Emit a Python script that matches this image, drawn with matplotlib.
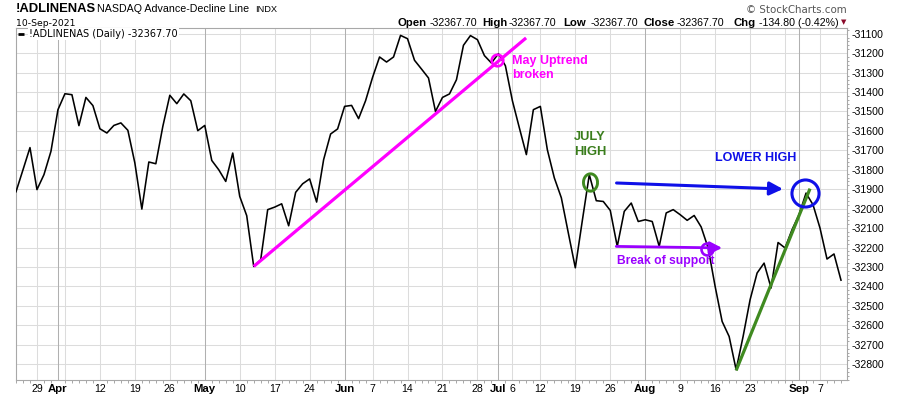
import matplotlib
matplotlib.use("Agg")
import matplotlib.pyplot as plt
import numpy as np
import pandas as pd
from matplotlib.path import Path
from matplotlib.markers import MarkerStyle
from matplotlib.ticker import MultipleLocator

# ---------------- data ----------------
start_date = "2021-03-24"
end_date = "2021-09-10"
market_holidays = ["2021-04-02", "2021-05-31", "2021-07-05", "2021-09-06"]

ad_line = [
    -31913, -31800, -31686,
    -31902, -31825, -31705, -31491,
    -31409, -31414, -31573, -31428, -31470,
    -31589, -31611, -31572, -31559, -31597,
    -31765, -32002, -31760, -31769, -31577,
    -31417, -31460, -31410, -31445, -31599,
    -31572, -31752, -31800, -31860, -31714,
    -31937, -32036, -32297, -32263, -32005,
    -31992, -31975, -32088, -31916, -31872,
    -31847, -31966, -31748, -31616, -31590,
    -31474, -31469, -31537, -31445,
    -31325, -31220, -31246, -31220, -31109,
    -31126, -31237, -31282, -31328, -31500,
    -31428, -31410, -31337, -31160, -31110,
    -31131, -31213, -31251, -31203, -31265,
    -31445, -31585, -31722, -31491,
    -31474, -31697, -31842, -31944, -32125,
    -32304, -32062, -31825, -31959, -31963,
    -32009, -32194, -32014, -31971, -32066,
    -32057, -32066, -32194, -32022, -32005,
    -32031, -32060, -32035, -32094, -32202,
    -32400, -32580, -32657, -32828, -32657,
    -32468, -32331, -32280, -32408, -32174,
    -32202, -32108, -32031, -31920, -31980,
    -32100, -32259, -32232.9, -32367.7,
]

y_ticks = list(range(-31100, -32801, -100))

week_grid_dates = ["2021-03-29", "2021-04-05", "2021-04-12", "2021-04-19", "2021-04-26",
                   "2021-05-10", "2021-05-17", "2021-05-24", "2021-06-07", "2021-06-14",
                   "2021-06-21", "2021-06-28", "2021-07-06", "2021-07-12", "2021-07-19",
                   "2021-07-26", "2021-08-09", "2021-08-16", "2021-08-23", "2021-08-30",
                   "2021-09-07"]
month_grid_dates = ["2021-04-01", "2021-05-03", "2021-06-01", "2021-07-01", "2021-08-02", "2021-09-01"]

x_label_dates = ["2021-03-29", "2021-04-01", "2021-04-12", "2021-04-19", "2021-04-26",
                 "2021-05-03", "2021-05-10", "2021-05-17", "2021-05-24", "2021-06-01",
                 "2021-06-07", "2021-06-14", "2021-06-21", "2021-06-28", "2021-07-01",
                 "2021-07-06", "2021-07-12", "2021-07-19", "2021-07-26", "2021-08-02",
                 "2021-08-09", "2021-08-16", "2021-08-23", "2021-09-01", "2021-09-07"]
x_label_texts = ["29", "Apr", "12", "19", "26", "May", "10", "17", "24", "Jun", "7", "14",
                 "21", "28", "Jul", "6", "12", "19", "26", "Aug", "9", "16", "23", "Sep", "7"]

# ---------------- setup ----------------
W, H = 900, 396
days = pd.bdate_range(start_date, end_date)
days = days[~days.isin(pd.to_datetime(market_holidays))]
index_of = {d: i for i, d in enumerate(days)}


def P(s):
    return index_of[pd.Timestamp(s)]


xs = np.arange(len(days))

fig = plt.figure(figsize=(W / 100, H / 100), dpi=100)
fig.patch.set_facecolor("white")
ax = fig.add_axes([16 / W, 1 - 380 / H, 831 / W, 352 / H])
ax.set_xlim(0.14, 118.86)
ax.set_ylim(-32881, -31071)

# grid
for v in y_ticks:
    ax.axhline(v, color="#dcdcdc", lw=0.75, zorder=1)
for d in week_grid_dates:
    ax.axvline(P(d), color="#dcdcdc", lw=0.75, zorder=1)
for d in month_grid_dates:
    ax.axvline(P(d), color="#b0b0b0", lw=0.75, zorder=1)

ax.plot(xs, ad_line, color="black", lw=1.15, zorder=5, solid_joinstyle="round")

# axes styling
for s in ax.spines.values():
    s.set_color("#a8a8a8")
    s.set_linewidth(0.8)
ax.yaxis.tick_right()
ax.set_yticks(y_ticks)
ax.set_yticklabels([str(v) for v in y_ticks], fontsize=7.6, family="Liberation Sans")
ax.tick_params(axis="y", length=0, pad=3.5)
ax.yaxis.set_minor_locator(MultipleLocator(20))
ax.tick_params(axis="y", which="minor", length=1.5, color="#999999", width=0.6, right=True, left=False)
ax.set_xticks([P(d) for d in x_label_dates])
ax.set_xticklabels(x_label_texts, fontsize=7.6, family="Liberation Sans")
for lab, t in zip(ax.get_xticklabels(), x_label_texts):
    if not t.isdigit():
        lab.set_fontweight("bold")
        lab.set_fontsize(8.2)
ax.tick_params(axis="x", length=0, pad=3)
ax.set_xticks(xs, minor=True)
ax.tick_params(axis="x", which="minor", length=2, color="#999999", width=0.6)

# legend
ax.plot([0.3, 1.15], [-31100, -31100], color="black", lw=2, zorder=7, solid_capstyle="butt")
ax.text(1.85, -31103, "!ADLINENAS (Daily) -32367.70", fontsize=7, family="DejaVu Sans",
        va="center", ha="left", zorder=7,
        bbox=dict(facecolor="white", edgecolor="none", pad=0.8))

# ---------------- annotations ----------------
magenta = "#ff00ff"
green = "#3f8a20"
dkgreen = "#3a7d1c"
blue = "#0f10e8"
purple = "#9a00ff"

# May uptrend
ax.plot([34, 72.96], [-32297, -31122], color=magenta, lw=2.3, zorder=6, solid_capstyle="butt")
ax.plot([68.8], [-31237], marker="o", ms=8.3, mfc="none", mec=magenta, mew=1.9, zorder=7)
ax.text(70.96, -31212, "May Uptrend\nbroken", color=magenta, fontsize=9, fontweight="bold",
        family="Liberation Sans", va="top", ha="left", linespacing=1.2, zorder=8)

# July high
ax.text(82.1, -31602, "JULY\nHIGH", color=dkgreen, fontsize=9.3, fontweight="bold",
        family="Liberation Sans", va="top", ha="center", linespacing=1.25, zorder=8)
th = np.linspace(0, 2 * np.pi, 80)
ell = MarkerStyle(Path(np.c_[0.81 * np.cos(th), np.sin(th)]))
ax.plot([82.04], [-31865], marker=ell, ms=12.5, mfc="none", mec=green, mew=2.1, zorder=7)

# lower high
ax.annotate("", xy=(109.7, -31899), xytext=(85.9, -31868),
            arrowprops=dict(arrowstyle="-|>", color=blue, lw=2.2, mutation_scale=20,
                            shrinkA=0, shrinkB=0), zorder=8)
ax.text(105.8, -31739, "LOWER HIGH", color=blue, fontsize=9, fontweight="bold",
        family="Liberation Sans", va="center", ha="center", zorder=8)
ax.plot([112.9], [-31920], marker="o", ms=19.5, mfc="none", mec=blue, mew=2.2, zorder=7)
ax.plot([103, 113.57], [-32832, -31897], color=green, lw=2.3, zorder=6, solid_capstyle="butt")

# break of support
ax.annotate("", xy=(101, -32202), xytext=(85.86, -32194),
            arrowprops=dict(arrowstyle="-|>", color=purple, lw=2.0, mutation_scale=18,
                            shrinkA=0, shrinkB=0), zorder=8)
ax.plot([98.8], [-32206], marker="o", ms=8.6, mfc="none", mec=purple, mew=1.9, zorder=7)
ax.text(85.96, -32271, "Break of support", color=purple, fontsize=8.7, fontweight="bold",
        family="Liberation Sans", va="center", ha="left", zorder=8)

# ---------------- header ----------------
def ft(xp, yp, s, **kw):
    fig.text(xp / W, 1 - yp / H, s, va="center", **kw)

ft(16, 8.5, "!ADLINENAS", fontsize=9.4, fontweight="bold", family="Liberation Sans")
ft(97, 8.5, "NASDAQ Advance-Decline Line", fontsize=7.7, family="Liberation Sans")
ft(255, 9.0, "INDX", fontsize=6.7, family="Liberation Sans")
ft(16, 23, "10-Sep-2021", fontsize=6.7, family="DejaVu Sans")
ft(847, 9.7, "\u00a9 StockCharts.com", fontsize=7.4, family="DejaVu Sans", color="#555555", ha="right")

pieces = [("Open", 398, True), ("-32367.70", 430, False), ("High", 482, True),
          ("-32367.70", 509, False), ("Low", 563, True), ("-32367.70", 591, False),
          ("Close", 644, True), ("-32367.70", 677, False), ("Chg", 733, True),
          ("-134.80 (-0.42%)", 759, False)]
for s, xp, b in pieces:
    ft(xp, 22.7, s, fontsize=8.2 if b else 7.7, fontweight="bold" if b else "normal",
       family="Liberation Sans")
fig.text(844 / W, 1 - 22.5 / H, "\u25bc", fontsize=5, color="#8b0a2a", ha="center", va="center",
         family="DejaVu Sans")

fig.savefig("out.png", dpi=100)
